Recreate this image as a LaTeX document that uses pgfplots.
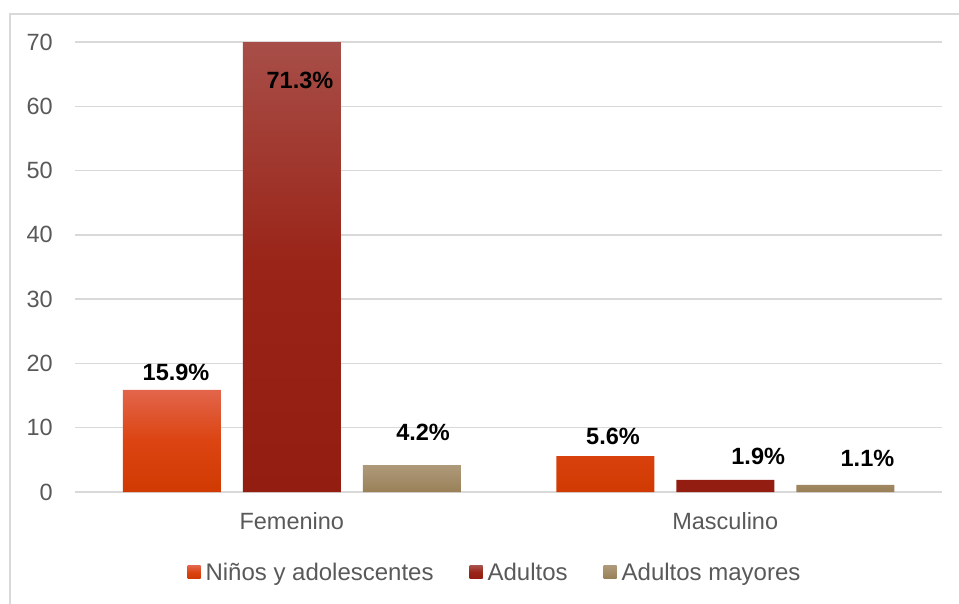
\documentclass[border=0pt]{standalone}
\usepackage{pgfplots}
\pgfplotsset{compat=1.18}
\usepackage{fontspec}
\setmainfont{Liberation Sans}
\definecolor{gridgray}{HTML}{D9D9D9}
\definecolor{txt}{HTML}{595959}
\definecolor{nTop}{HTML}{E2654B}
\definecolor{nMid}{HTML}{DC4411}
\definecolor{nBot}{HTML}{D03A02}
\definecolor{aTop}{HTML}{A8504A}
\definecolor{aMid}{HTML}{9A2418}
\definecolor{aBot}{HTML}{931D10}
\definecolor{mTop}{HTML}{AE9A7A}
\definecolor{mBot}{HTML}{998058}
\begin{document}
\begin{tikzpicture}
\useasboundingbox (0pt,0pt) rectangle (959pt,603pt);
\clip (0pt,0pt) rectangle (959pt,603pt);
\draw[gridgray, line width=1.2pt] (10pt,-5pt) -- (10pt,589pt) -- (965pt,589pt);
\begin{axis}[
  at={(75pt,111pt)}, anchor=south west,
  scale only axis, width=867pt, height=450pt,
  xmin=-0.5, xmax=1.5, ymin=0, ymax=70,
  axis line style={draw=none},
  tick style={draw=none},
  ymajorgrids, grid style={gridgray, line width=1.3pt},
  xtick={0,1}, xticklabels={Femenino,Masculino},
  ytick={0,10,...,70},
  /pgf/number format/assume math mode=true,
  tick label style={font=\fontsize{23.5}{27}\selectfont, text=txt},
  yticklabel style={anchor=east, inner sep=0pt, xshift=-22pt},
  xticklabel style={anchor=base, inner sep=0pt, yshift=-37pt},
  legend style={at={(0.4844,-0.178)}, anchor=center, draw=none, fill=none,
    legend columns=3, font=\fontsize{24}{28}\selectfont, text=txt,
    /tikz/every odd column/.append style={column sep=3pt},
    /tikz/every even column/.append style={column sep=34pt}},
  legend image code/.code={\path[#1] (0pt,-6.5pt) rectangle (13pt,6.5pt);},
  clip=true,
]
\addplot[ybar, bar width=98pt, bar shift=-120pt, draw=none, top color=nTop, bottom color=nBot, middle color=nMid]
  coordinates {(0,15.9) (1,5.6)};
\addplot[ybar, bar width=98pt, bar shift=0pt, draw=none, top color=aTop, bottom color=aBot, middle color=aMid]
  coordinates {(0,71.3) (1,1.9)};
\addplot[ybar, bar width=98pt, bar shift=120pt, draw=none, top color=mTop, bottom color=mBot]
  coordinates {(0,4.2) (1,1.1)};
\legend{Niños y adolescentes, Adultos, Adultos mayores}
\addplot[forget plot, draw=none, mark=none, nodes near coords, point meta=explicit symbolic,
  every node near coord/.append style={anchor=center, font=\bfseries\fontsize{23.5}{27}\selectfont, text=black}]
  coordinates {(-0.267,18.6) [15.9\%] (0.019,64.0) [71.3\%] (0.303,9.26) [4.2\%]
               (0.741,8.63) [5.6\%] (1.076,5.6) [1.9\%] (1.328,5.29) [1.1\%]};
\end{axis}
\end{tikzpicture}
\end{document}
